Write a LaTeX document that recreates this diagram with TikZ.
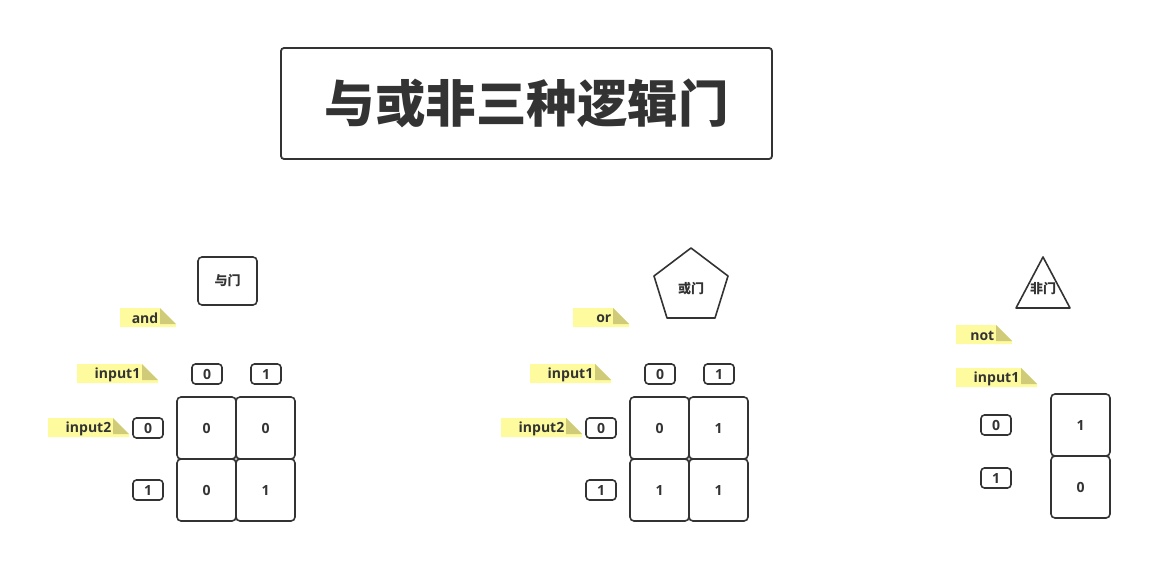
\documentclass[tikz,border=0pt]{standalone}
\usepackage{fontspec}
\setmainfont{Open Sans}
\newfontfamily\cjk{Noto Sans CJK SC}
\usetikzlibrary{shapes.geometric}
\definecolor{ink}{HTML}{333333}
\definecolor{tagyellow}{HTML}{FDFB9E}
\definecolor{tagfold}{HTML}{CFCB78}
\newcommand{\mytag}[5]{%
  \fill[tagyellow] (#2,#3) -- (#4-16,#3) -- (#4,#3+16) -- (#4,#3+19) -- (#2,#3+19) -- cycle;
  \fill[tagfold] (#4-16,#3) -- (#4-16,#3+16) -- (#4,#3+16) -- cycle;
  \node[tagtext, anchor=east] (#1) at (#4-17.5,#3+10.5) {#5};
}
\tikzset{
  lbl/.style={font=\fontsize{14}{16}\selectfont\bfseries, text=ink},
  tagtext/.style={lbl, inner sep=0pt},
  hdr/.style={draw=ink, line width=1.6pt, rounded corners=3.5pt, minimum width=30pt, minimum height=20pt, inner sep=0pt, lbl},
  cell/.style={draw=ink, line width=1.6pt, rounded corners=4pt, minimum width=59pt, minimum height=62pt, inner sep=0pt, lbl},
  gate/.style={draw=ink, line width=1.6pt, text=ink, font=\cjk\bfseries\fontsize{13}{15}\selectfont},
}
\begin{document}
\begin{tikzpicture}[x=1pt,y=-1pt]
\useasboundingbox (0,0) rectangle (1172,583);
% title
\node[draw=ink, line width=1.8pt, rounded corners=3pt, minimum width=491pt, minimum height=111pt,
      text=ink, font=\cjk\bfseries\fontsize{50.5}{56}\selectfont] (title) at (526.5,103.5) {与或非三种逻辑门};

% ===== AND =====
\node[gate, rounded corners=4pt, minimum width=59pt, minimum height=48pt, inner sep=0pt] (andgate) at (227.5,281) {与门};
\mytag{tagand}{120}{308}{176}{and}
\mytag{andin1}{77}{364}{158}{input1}
\mytag{andin2}{48}{418}{129}{input2}
\node[hdr] (andc0) at (207,374) {0};
\node[hdr] (andc1) at (266,374) {1};
\node[hdr] (andr0) at (148,428) {0};
\node[hdr] (andr1) at (148,490) {1};
\node[cell] (and00) at (206.5,428) {0};
\node[cell] (and01) at (265.5,428) {0};
\node[cell] (and10) at (206.5,490) {0};
\node[cell] (and11) at (265.5,490) {1};

% ===== OR =====
\coordinate (orc) at (691,289);
\draw[ink, line width=1.6pt, line join=round] (691,248) -- (728,276) -- (715,318) -- (667,318) -- (654,276) -- cycle;
\node[text=ink, font=\cjk\bfseries\fontsize{13}{15}\selectfont] (orgate) at (orc) {或门};
\mytag{tagor}{573}{308}{629}{or}
\mytag{orin1}{530}{364}{611}{input1}
\mytag{orin2}{501}{418}{582}{input2}
\node[hdr] (orc0) at (660,374) {0};
\node[hdr] (orc1) at (719,374) {1};
\node[hdr] (orr0) at (601,428) {0};
\node[hdr] (orr1) at (601,490) {1};
\node[cell] (or00) at (659.5,428) {0};
\node[cell] (or01) at (718.5,428) {1};
\node[cell] (or10) at (659.5,490) {1};
\node[cell] (or11) at (718.5,490) {1};

% ===== NOT =====
\draw[ink, line width=1.6pt, line join=round] (1043,257) -- (1070,308) -- (1016,308) -- cycle;
\node[text=ink, font=\cjk\bfseries\fontsize{13}{15}\selectfont, inner sep=0pt] (notgate) at (1043,289) {非门};
\mytag{tagnot}{956}{325}{1012}{not}
\mytag{notin1}{956}{368}{1037}{input1}
\node[hdr] (notr0) at (996,425) {0};
\node[hdr] (notr1) at (996,478) {1};
\node[cell] (not0) at (1080.5,425) {1};
\node[cell] (not1) at (1080.5,487) {0};
\end{tikzpicture}
\end{document}
